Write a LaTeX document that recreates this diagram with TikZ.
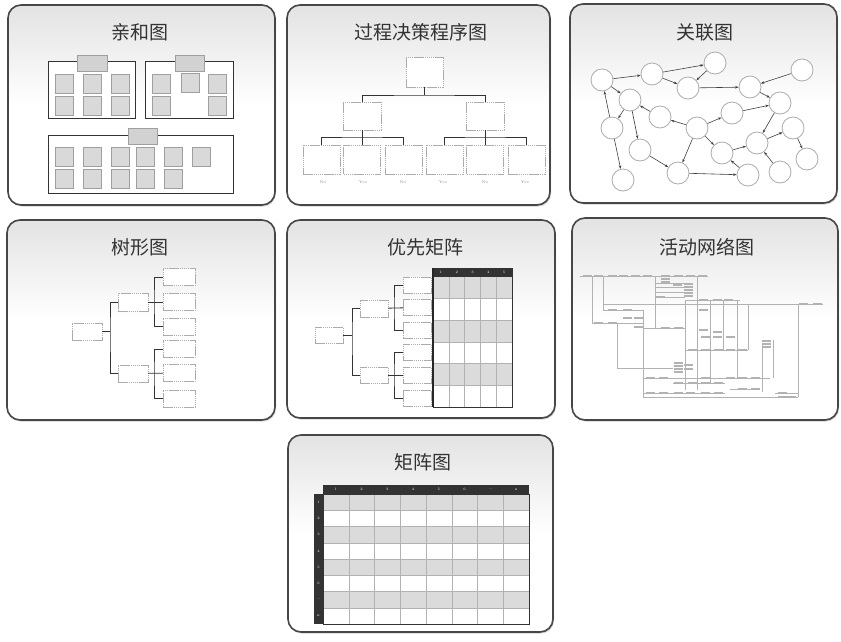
\documentclass[tikz,border=0pt]{standalone}
\usepackage{fontspec}
\newfontfamily\cjk{Noto Sans CJK SC}
\usetikzlibrary{arrows.meta,shadows}
\pgfdeclareverticalshading{panelshade}{100bp}{color(0bp)=(white); color(50bp)=(white); color(100bp)=(black!22)}
\begin{document}
\begin{tikzpicture}[x=1pt,y=-1pt,
  box/.style 2 args={minimum width=#1, minimum height=#2, inner sep=0pt, outer sep=0pt},
  panel/.style={draw=black!72, line width=1.6pt, rounded corners=13pt, shading=panelshade,
     drop shadow={shadow xshift=1pt, shadow yshift=-1.5pt, opacity=0.35}},
  title/.style={font=\cjk\fontsize{19}{21}\selectfont, text=black!80, inner sep=0pt},
  grp/.style={draw=black!80, line width=0.8pt, fill=white},
  sq/.style={draw=gray!75, line width=0.5pt, fill=gray!30, box={18pt}{19pt}},
  tab/.style={draw=gray!75, line width=0.5pt, fill=gray!35},
  pb/.style={draw=gray!65, line width=0.8pt, dash pattern=on 1.5pt off 0.6pt, fill=white},
  tl/.style={draw=black!80, line width=0.8pt},
  lbl/.style={font=\fontsize{4}{4}\selectfont, text=gray!90, inner sep=0pt},
  cir/.style={circle, draw=gray!65, line width=0.8pt, fill=white, minimum size=22pt, inner sep=0pt},
  arr/.style={-{Stealth[length=3.5pt,width=2.6pt]}, draw=black!75, line width=0.6pt},
  hd/.style={font=\fontsize{3.5}{3.5}\selectfont, text=white, inner sep=0pt},
  nb/.style={fill=gray!60, minimum width=9pt, minimum height=2.4pt, inner sep=0pt},
  nl/.style={draw=gray!60, line width=0.45pt}
]
\useasboundingbox[fill=white] (0,0) rectangle (841,641);

% ---------- panels ----------
\node[panel, box={267pt}{200pt}] (p1) at (141.5,105) {};
\node[panel, box={263pt}{200pt}] (p2) at (418.5,105) {};
\node[panel, box={267pt}{199pt}] (p3) at (703.5,103.5) {};
\node[panel, box={268pt}{200pt}] (p4) at (141,320) {};
\node[panel, box={268pt}{198pt}] (p5) at (421,319) {};
\node[panel, box={266pt}{202pt}] (p6) at (705,319) {};
\node[panel, box={265pt}{197pt}] (p7) at (420.5,533.5) {};

\node[title] (t1) at (140,32) {亲和图};
\node[title] (t2) at (421,32) {过程决策程序图};
\node[title] (t3) at (705,32) {关联图};
\node[title] (t4) at (140,247) {树形图};
\node[title] (t5) at (425,247) {优先矩阵};
\node[title] (t6) at (707,247) {活动网络图};
\node[title] (t7) at (423,462) {矩阵图};

% ---------- affinity diagram ----------
\node[grp, box={87pt}{57pt}] (gA) at (91.5,89.5) {};
\node[grp, box={88pt}{57pt}] (gB) at (189,89.5) {};
\node[grp, box={185pt}{58pt}] (gC) at (140.5,164) {};
\node[tab, box={30pt}{16pt}] (tA) at (92,63) {};
\node[tab, box={29pt}{16pt}] (tB) at (189.5,63) {};
\node[tab, box={29pt}{16pt}] (tC) at (142.5,136) {};
\foreach \x [count=\i] in {64,92.5,120.5}{
  \node[sq] (a1\i) at (\x,83.5) {};
  \node[sq] (a2\i) at (\x,106) {};
}
\node[sq] (b11) at (161.5,83.5) {};
\node[sq] (b12) at (190,82.5) {};
\node[sq] (b13) at (217.5,83.5) {};
\node[sq] (b21) at (161.5,106) {};
\node[sq] (b23) at (217.5,106) {};
\foreach \x [count=\i] in {64,92.5,120.5,145,173.5,201.5}{
  \node[sq] (c1\i) at (\x,157) {};
}
\foreach \x [count=\i] in {64,92.5,120.5,145,173.5}{
  \node[sq] (c2\i) at (\x,178.5) {};
}

% ---------- PDPC ----------
\node[pb, box={37pt}{30pt}] (d0) at (424.5,72) {};
\node[pb, box={38pt}{28pt}] (dL) at (362,116) {};
\node[pb, box={38pt}{28pt}] (dR) at (485,116) {};
\foreach \x [count=\i] in {321.5,362,403.5,444.5,485,526.5}{
  \node[pb, box={37pt}{29pt}] (db\i) at (\x,159.5) {};
}
\coordinate (j0) at (424.5,95);
\coordinate (jL) at (362,137);
\coordinate (jR) at (485,137);
\draw[tl] (d0) -- (j0);
\draw[tl] (dL) |- (j0) -| (dR);
\draw[tl] (dL) -- (jL);
\draw[tl] (db1) |- (jL) -| (db3);
\draw[tl] (jL) -- (db2);
\draw[tl] (dR) -- (jR);
\draw[tl] (db4) |- (jR) -| (db6);
\draw[tl] (jR) -- (db5);
\foreach \x/\t [count=\i] in {323/No,363/Yes,403/No,443/Yes,485/No,525/Yes}{
  \node[lbl] (dl\i) at (\x,182) {\t};
}

% ---------- relations diagram ----------
\foreach \n/\x/\y in {1/602/80, 2/652/74, 3/715/63, 4/688/88, 5/802/70, 6/750/87,
   7/630/100, 8/660/117, 9/732/113, 10/780/103, 11/612/128, 12/697/128, 13/793/128,
   14/640/150, 15/757/143, 16/722/153, 17/807/159, 18/623/180, 19/678/173,
   20/748/175, 21/780/172}{
  \node[cir] (r\n) at (\x,\y) {};
}
\foreach \a/\b in {1/2, 2/3, 3/4, 2/4, 4/6, 5/6, 6/10, 1/7, 11/1, 7/11, 7/14, 12/8, 8/7,
   12/9, 9/10, 10/15, 12/16, 12/19, 16/15, 15/13, 13/17, 21/15, 20/16, 14/19, 19/20, 11/18}{
  \draw[arr] (r\a) -- (r\b);
}

% ---------- tree diagram ----------
\node[pb, box={30pt}{17pt}] (e0) at (87,331.5) {};
\node[pb, box={30pt}{18pt}] (eT) at (133,302) {};
\node[pb, box={30pt}{17pt}] (eB) at (133,373.5) {};
\foreach \y [count=\i] in {277,302,326.5,349,373,398.5}{
  \node[pb, box={32pt}{17pt}] (el\i) at (179,\y) {};
}
\coordinate (k0) at (110,331.5);
\coordinate (kT) at (154,302);
\coordinate (kB) at (154,373.5);
\draw[tl] (e0) -- (k0);
\draw[tl] (eT) -| (k0) |- (eB);
\draw[tl] (eT) -- (el2);
\draw[tl] (el1) -| (kT) |- (el3);
\draw[tl] (eB) -- (el5);
\draw[tl] (el4) -| (kB) |- (el6);

% ---------- prioritization matrix ----------
\node[pb, box={28pt}{16pt}] (f0) at (329,335) {};
\node[pb, box={28pt}{17pt}] (fT) at (374,308.5) {};
\node[pb, box={28pt}{16pt}] (fB) at (374,375) {};
\foreach \y [count=\i] in {285,307.5,330.5,352,375,398.5}{
  \node[pb, box={28pt}{16pt}] (fl\i) at (417,\y) {};
}
\coordinate (m0) at (352,335);
\coordinate (mT) at (394,308.5);
\coordinate (mB) at (394,375);
\draw[tl] (f0) -- (m0);
\draw[tl] (fT) -| (m0) |- (fB);
\draw[tl] (fT) -- (fl2);
\draw[tl] (fl1) -| (mT) |- (fl3);
\draw[tl] (fB) -- (fl5);
\draw[tl] (fl4) -| (mB) |- (fl6);
\node[fill=black!80, box={79pt}{9pt}] (fh) at (472.5,272.5) {};
\foreach \k in {0,...,5}{
  \pgfmathsetmacro{\yy}{277+21.667*\k+10.833}
  \pgfmathtruncatemacro{\ev}{mod(\k,2)}
  \ifnum\ev=0
    \node[fill=gray!28, box={79pt}{21.667pt}] (fr\k) at (472.5,\yy) {};
  \else
    \node[fill=white, box={79pt}{21.667pt}] (fr\k) at (472.5,\yy) {};
  \fi
}
\foreach \k in {1,...,4}{
  \draw[draw=gray!60, line width=0.5pt] (433+15.8*\k,277) -- (433+15.8*\k,407);
}
\foreach \k in {1,...,5}{
  \draw[draw=gray!60, line width=0.5pt] (433,277+21.667*\k) -- (512,277+21.667*\k);
}
\draw[draw=black!80, line width=0.8pt] (433,268) rectangle (512,407);
\draw[draw=black!85, line width=1.4pt] (433,268) -- (433,407);
\foreach \t [count=\i] in {1,2,3,4,5}{
  \node[hd] (fn\i) at (433+15.8*\i-7.9,272.5) {\t};
}

% ---------- activity network ----------
\foreach \a/\b/\c/\d in {580/276/708/276, 603/304/798/304, 798/304/823/304, 603/310/643/310,
  655/283/685/283, 655/287/685/287, 655/292/685/292, 655/297/685/297, 685/300/740/300,
  592/323/643/323, 643/328/685/328, 685/350/748/350, 617/368/673/368, 643/378/770/378,
  673/383/725/383, 730/389/760/389, 643/393/725/393, 643/397/798/397, 775/393/798/393,
  592/276/592/323, 603/276/603/310, 617/323/617/368, 643/310/643/397, 655/276/655/328,
  685/300/685/390, 697/276/697/390, 710/300/710/383, 723/300/723/350, 737/300/737/378,
  748/304/748/350, 762/345/762/392, 773/340/773/378, 798/304/798/397}{
  \draw[nl] (\a,\b) -- (\c,\d);
}
\foreach \x/\y [count=\i] in {587/276,598/276,612/276,623/276,635/276,647/276,665/276,678/276,
  690/276,702/276,665/279,665/282,688/284,688/287,688/290,688/293,688/296,677/285,660/297,
  703/300,717/300,728/300,803/304,817/304,612/310,627/310,627/318,638/318,598/323,612/323,
  638/327,665/328,678/328,703/310,703/330,717/332,705/337,717/337,730/337,
  692/350,705/350,718/350,730/350,742/350,766/341,766/344,766/347,
  678/363,678/366,678/369,678/372,688/365,688/369,
  650/378,663/378,705/378,730/378,742/378,755/378,
  678/383,692/383,705/383,718/383,742/389,755/389,
  650/393,663/393,678/393,690/393,705/393,718/393,782/393,782/397,791/397}{
  \node[nb] (n\i) at (\x,\y) {};
}

% ---------- matrix diagram ----------
\node[fill=black!80, box={206pt}{9pt}] (gh) at (426,489.5) {};
\node[fill=black!80, box={9pt}{130pt}] (gv) at (318.5,559) {};
\foreach \k in {0,...,7}{
  \pgfmathsetmacro{\yy}{494+16.25*\k+8.125}
  \pgfmathtruncatemacro{\ev}{mod(\k,2)}
  \ifnum\ev=0
    \node[fill=gray!28, box={206pt}{16.25pt}] (gr\k) at (426,\yy) {};
  \else
    \node[fill=white, box={206pt}{16.25pt}] (gr\k) at (426,\yy) {};
  \fi
}
\foreach \k in {1,...,7}{
  \draw[draw=gray!60, line width=0.5pt] (323+25.75*\k,494) -- (323+25.75*\k,624);
  \draw[draw=gray!60, line width=0.5pt] (323,494+16.25*\k) -- (529,494+16.25*\k);
}
\draw[draw=black!80, line width=0.8pt] (323,494) rectangle (529,624);
\foreach \t [count=\i] in {1,2,3,4,5,6,\ldots,n}{
  \node[hd] (gc\i) at (323+25.75*\i-12.875,489.5) {\t};
  \node[hd] (gw\i) at (318.5,494+16.25*\i-8.125) {\t};
}
\end{tikzpicture}
\end{document}
